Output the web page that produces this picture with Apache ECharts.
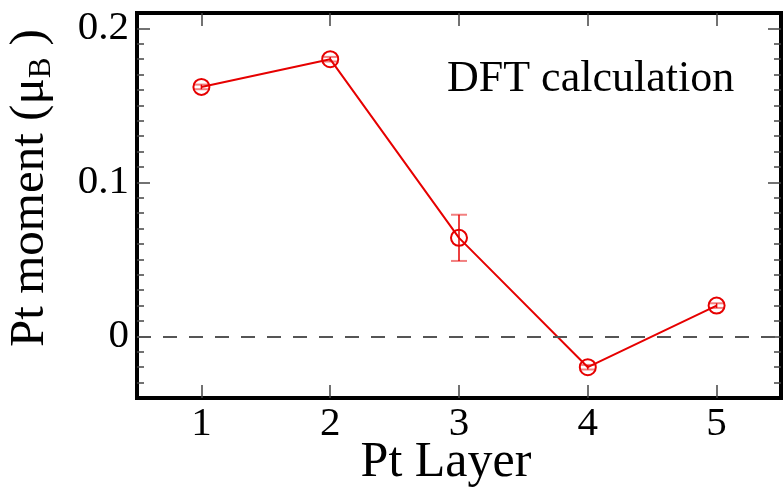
<!DOCTYPE html>
<html>
<head>
<meta charset="utf-8">
<script src="https://cdn.jsdelivr.net/npm/echarts@6/dist/echarts.min.js"></script>
<style>html,body{margin:0;padding:0;background:#fff;}#c{width:783px;height:496px;}</style>
</head>
<body>
<div id="c"></div>
<script>
var layers = [1, 2, 3, 4, 5];
var moments = [0.162, 0.180, 0.064, -0.020, 0.020];
var errors = [0.0015, 0.0015, 0.015, 0.0015, 0.0015];
var xTickValues = [1, 2, 3, 4, 5];
var yMajorTicks = [0, 0.1, 0.2];
var yMinorTicks = [-0.03, -0.02, -0.01, 0.01, 0.02, 0.03, 0.04, 0.05, 0.06, 0.07, 0.08, 0.09,
                   0.11, 0.12, 0.13, 0.14, 0.15, 0.16, 0.17, 0.18, 0.19];

var FONT = 'Liberation Serif';
var RED = '#e60000';
var TICK = '#444';

var lineData = layers.map(function (x, i) { return [x, moments[i]]; });
var errData = layers.map(function (x, i) { return [x, moments[i] - errors[i], moments[i] + errors[i]]; });

function xAx(pos, showLabel) {
  return {
    type: 'value', position: pos, min: 0.5, max: 5.5,
    axisLine: { show: false, onZero: false }, splitLine: { show: false },
    axisTick: { show: true, inside: true, length: 13, customValues: xTickValues, lineStyle: { color: TICK, width: 1.5 } },
    axisLabel: { show: showLabel, customValues: xTickValues, margin: 6, fontFamily: FONT, fontSize: 41, color: '#000' }
  };
}
function yAx(pos, ticks, len, showLabel) {
  return {
    type: 'value', position: pos, min: -0.04, max: 0.21,
    axisLine: { show: false, onZero: false }, splitLine: { show: false },
    axisTick: { show: true, inside: true, length: len, customValues: ticks, lineStyle: { color: TICK, width: 1.5 } },
    axisLabel: { show: showLabel, customValues: ticks, margin: 8, fontFamily: FONT, fontSize: 41, color: '#000',
      formatter: function (v) { return v === 0 ? '0' : String(Math.round(v * 10) / 10); } }
  };
}

var chart = echarts.init(document.getElementById('c'), null, { renderer: 'canvas' });
chart.setOption({
  animation: false,
  grid: { left: 137, right: 2, top: 13, bottom: 98, show: true, borderColor: '#000', borderWidth: 4, backgroundColor: 'transparent' },
  xAxis: [xAx('bottom', true), xAx('top', false)],
  yAxis: [yAx('left', yMajorTicks, 13, true), yAx('left', yMinorTicks, 7, false),
          yAx('right', yMajorTicks, 13, false), yAx('right', yMinorTicks, 7, false)],
  graphic: [
    { type: 'text', x: 447, y: 101, style: { text: 'DFT calculation', font: '44px "Liberation Serif"', fill: '#000', verticalAlign: 'bottom' } },
    { type: 'text', x: 446, y: 463, style: { text: 'Pt Layer', font: '50px "Liberation Serif"', fill: '#000', align: 'center', verticalAlign: 'middle' } },
    { type: 'text', x: 33, y: 188, rotation: Math.PI / 2,
      style: { text: '{a|Pt moment (μ}{b|B}{a| )}', align: 'center', verticalAlign: 'middle', fill: '#000',
        rich: {
          a: { fontFamily: FONT, fontSize: 49, lineHeight: 49, padding: [0, 0, 6, 0], fill: '#000' },
          b: { fontFamily: FONT, fontSize: 31, lineHeight: 31, verticalAlign: 'bottom', fill: '#000' }
        } } }
  ],
  series: [
    {
      type: 'line', xAxisIndex: 0, yAxisIndex: 0, data: lineData, z: 3,
      symbol: 'circle', symbolSize: 16, showSymbol: true,
      lineStyle: { color: RED, width: 2 },
      itemStyle: { color: 'rgba(0,0,0,0)', borderColor: RED, borderWidth: 2 },
      markLine: {
        silent: true, symbol: ['none', 'none'], label: { show: false },
        lineStyle: { color: '#555', width: 2, type: [14, 12] },
        data: [{ yAxis: 0 }]
      }
    },
    {
      type: 'custom', xAxisIndex: 0, yAxisIndex: 0, data: errData, z: 4,
      encode: { x: 0, y: [1, 2] },
      renderItem: function (params, api) {
        var x = api.value(0);
        var lo = api.coord([x, api.value(1)]);
        var hi = api.coord([x, api.value(2)]);
        var hw = 8;
        return { type: 'group', children: [
          { type: 'line', shape: { x1: lo[0], y1: lo[1], x2: hi[0], y2: hi[1] }, style: { stroke: RED, lineWidth: 1.5 } },
          { type: 'line', shape: { x1: lo[0] - hw, y1: lo[1], x2: lo[0] + hw, y2: lo[1] }, style: { stroke: 'rgba(230,0,0,0.5)', lineWidth: 2 } },
          { type: 'line', shape: { x1: hi[0] - hw, y1: hi[1], x2: hi[0] + hw, y2: hi[1] }, style: { stroke: 'rgba(230,0,0,0.5)', lineWidth: 2 } }
        ] };
      }
    }
  ]
});
</script>
</body>
</html>
